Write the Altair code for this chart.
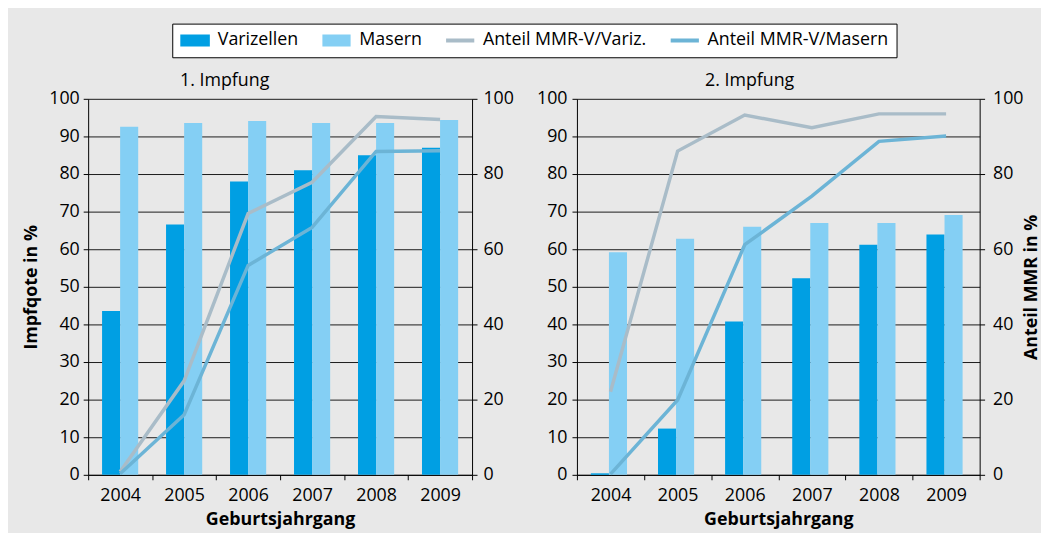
import altair as alt
import pandas as pd

years = ["2004", "2005", "2006", "2007", "2008", "2009"]

# 1. Impfung
imp1_varizellen = [43.6, 66.6, 78.0, 81.0, 85.0, 87.0]
imp1_masern = [92.6, 93.6, 94.1, 93.6, 93.6, 94.4]
imp1_anteil_variz = [0.8, 25.0, 69.5, 77.8, 95.3, 94.5]
imp1_anteil_masern = [0.3, 16.0, 55.7, 65.8, 86.0, 86.2]

# 2. Impfung
imp2_varizellen = [0.4, 12.3, 40.8, 52.3, 61.2, 63.9]
imp2_masern = [59.2, 62.8, 66.0, 67.0, 67.0, 69.1]
imp2_anteil_variz = [22.1, 86.1, 95.7, 92.3, 96.0, 96.0]
imp2_anteil_masern = [0.2, 19.9, 61.2, 74.1, 88.7, 90.1]

bar_series = ["Varizellen", "Masern"]
line_series = ["Anteil MMR-V/Variz.", "Anteil MMR-V/Masern"]
all_series = bar_series + line_series
series_colors = ["#009fe3", "#84cff4", "#a9bcc8", "#6cb4d6"]
color_of = dict(zip(all_series, series_colors))
shape_paths = ["M-1,-0.4H1V0.4H-1Z", "M-0.95,-0.4H0.95V0.4H-0.95Z",
               "M-0.95,-0.13H0.95V0.13H-0.95Z", "M-0.95,-0.13H0.95V0.13H-0.95Z"]

FONT = "Open Sans"
FS = 18


def long_table(series_names, value_lists):
    rows = []
    for name, vals in zip(series_names, value_lists):
        for y, v in zip(years, vals):
            rows.append({"Jahr": y, "Serie": name, "Wert": v, "Farbe": color_of[name]})
    return pd.DataFrame(rows)


def make_legend():
    return alt.Legend(orient="none", direction="horizontal", columns=4,
                      legendX=85, legendY=-76, title=None, strokeColor="black",
                      fillColor="white", padding=8, columnPadding=23, labelOffset=8,
                      clipHeight=18,
                      symbolSize=900, symbolStrokeWidth=0, labelFontSize=FS,
                      labelFont=FONT, labelColor="black", labelLimit=0)


def panel(title, dx, bars, lines, width, left_title, right_title, with_legend):
    bar_df = long_table(bar_series, bars)
    line_df = long_table(line_series, lines)

    x = alt.X("Jahr:N", sort=years,
              scale=alt.Scale(paddingInner=0, paddingOuter=0),
              axis=alt.Axis(title="Geburtsjahrgang", labelAngle=0, tickBand="extent",
                            grid=False, domainColor="black", tickColor="black",
                            tickSize=5, labelPadding=7, titlePadding=6))

    if left_title:
        left_axis = alt.Axis(values=list(range(0, 101, 10)), grid=True, gridColor="#1a1a1a",
                             gridWidth=1, domainColor="black", tickColor="black",
                             tickSize=5, labelPadding=4, titlePadding=8, title=left_title)
    else:
        left_axis = alt.Axis(values=list(range(0, 101, 10)), grid=True, gridColor="#1a1a1a",
                             gridWidth=1, domainColor="black", tickColor="black",
                             tickSize=5, labelPadding=5, title=None)

    if right_title:
        right_axis = alt.Axis(orient="right", values=list(range(0, 101, 20)), grid=False,
                              domainColor="black", tickColor="black", tickSize=5,
                              labelPadding=8, titlePadding=18, titleAngle=270,
                              title=right_title)
    else:
        right_axis = alt.Axis(orient="right", values=list(range(0, 101, 20)), grid=False,
                              domainColor="black", tickColor="black", tickSize=5,
                              labelPadding=6, title=None)

    bar_layer = alt.Chart(bar_df).mark_bar().encode(
        x=x,
        xOffset=alt.XOffset("Serie:N", sort=bar_series,
                            scale=alt.Scale(paddingInner=0, paddingOuter=0.77)),
        y=alt.Y("Wert:Q", scale=alt.Scale(domain=[0, 100], nice=False), axis=left_axis),
        color=alt.Color("Farbe:N", scale=None),
    )

    line_layer = alt.Chart(line_df).mark_line(strokeWidth=3.5).encode(
        x=x,
        y=alt.Y("Wert:Q", scale=alt.Scale(domain=[0, 100], nice=False), axis=right_axis),
        stroke=alt.Stroke("Farbe:N", scale=None),
        detail="Serie:N",
    )

    chart = alt.layer(bar_layer, line_layer).resolve_scale(y="independent")

    if with_legend:
        legend_df = long_table(all_series, [bars[0], bars[1], lines[0], lines[1]])
        legend_layer = alt.Chart(legend_df).mark_point(
            filled=True, opacity=1, strokeWidth=0
        ).encode(
            x=alt.value(0),
            y=alt.value(0),
            color=alt.Color("Serie:N",
                            scale=alt.Scale(domain=all_series, range=series_colors),
                            sort=all_series, legend=make_legend()),
            shape=alt.Shape("Serie:N",
                            scale=alt.Scale(domain=all_series, range=shape_paths),
                            sort=all_series, legend=make_legend()),
        ).transform_filter("datum.Wert < -1")
        chart = alt.layer(bar_layer, line_layer, legend_layer).resolve_scale(y="independent")

    return chart.properties(
        width=width, height=380,
        title=alt.TitleParams(title, dx=dx, anchor="middle", fontSize=FS,
                              fontWeight="normal", font=FONT, offset=0, color="black"),
    )


left = panel("1. Impfung", -56, [imp1_varizellen, imp1_masern],
             [imp1_anteil_variz, imp1_anteil_masern], 388, "Impfqote in %", None, True)
right = panel("2. Impfung", -29, [imp2_varizellen, imp2_masern],
              [imp2_anteil_variz, imp2_anteil_masern], 407, None, "Anteil MMR in %", False)

chart = alt.hconcat(left, right, spacing=23).properties(
    background="#e8e8e8",
    padding={"left": 15, "top": 12, "right": 0, "bottom": 2},
).configure_view(stroke=None).configure_axis(
    labelFont=FONT, labelFontSize=FS, labelColor="black",
    titleFont=FONT, titleFontSize=FS, titleFontWeight="bold", titleColor="black",
).configure_legend(labelFont=FONT)

chart.save("out.html", embed_options={"renderer": "svg", "actions": False})
